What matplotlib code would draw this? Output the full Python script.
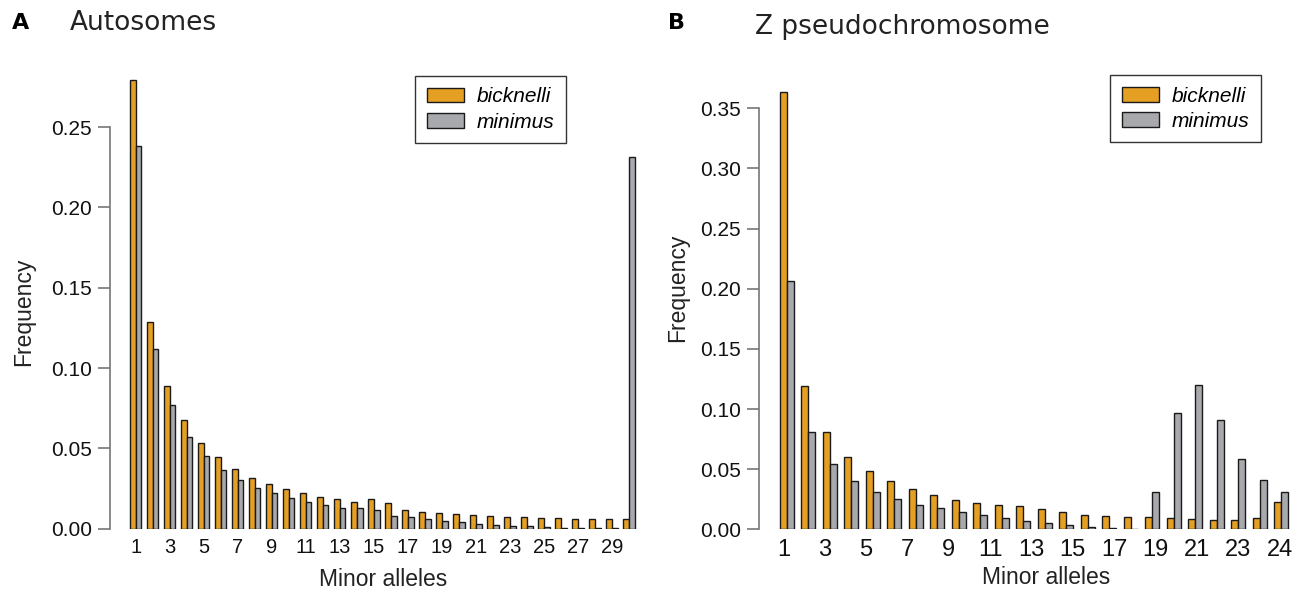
import matplotlib
matplotlib.use('Agg')
import matplotlib.pyplot as plt
import numpy as np

# site frequency spectra
auto_bicknelli = [0.2793, 0.1286, 0.0887, 0.0674, 0.0535, 0.0444, 0.0369, 0.0317, 0.0276, 0.0245,
                  0.0220, 0.0198, 0.0182, 0.0164, 0.0183, 0.0159, 0.0114, 0.0106, 0.0100, 0.0093,
                  0.0083, 0.0079, 0.0075, 0.0071, 0.0068, 0.0064, 0.0062, 0.0058, 0.0058, 0.0060]
auto_minimus = [0.2380, 0.1122, 0.0769, 0.0573, 0.0450, 0.0364, 0.0302, 0.0256, 0.0220, 0.0191,
                0.0166, 0.0145, 0.0129, 0.0130, 0.0114, 0.0079, 0.0070, 0.0058, 0.0048, 0.0039,
                0.0031, 0.0025, 0.0019, 0.0015, 0.0010, 0.0006, 0.0004, 0.0002, 0.0002, 0.2312]
z_bicknelli = [0.3634, 0.1194, 0.0812, 0.0604, 0.0481, 0.0399, 0.0333, 0.0283, 0.0244, 0.0216,
               0.0200, 0.0193, 0.0169, 0.0141, 0.0122, 0.0111, 0.0105, 0.0100, 0.0091, 0.0083,
               0.0078, 0.0080, 0.0091, 0.0227]
z_minimus = [0.2062, 0.0812, 0.0542, 0.0403, 0.0313, 0.0249, 0.0202, 0.0175, 0.0147, 0.0119,
             0.0091, 0.0067, 0.0050, 0.0036, 0.0022, 0.0014, 0.0006, 0.0313, 0.0965, 0.1200,
             0.0906, 0.0588, 0.0413, 0.0313]

auto_ticklabels = [str(i) for i in range(1, 30, 2)]
z_ticklabels = [str(i) for i in range(1, 24, 2)] + ['24']
z_tickslots = list(range(1, 24, 2)) + [25]

species = ['bicknelli', 'minimus']
colors = ['#E5A024', '#A8A9AD']

fig = plt.figure(figsize=(13, 5.96), dpi=100)
W, H = 1300., 596.

def fig_axes(left, right, top, bottom):
    return fig.add_axes([left / W, 1 - bottom / H, (right - left) / W, (bottom - top) / H])

def draw_panel(ax, b, m, xlo, xhi, ytop, yticks, xtickpos, xticklabels, xfont):
    x = np.arange(1, len(b) + 1)
    w = 1 / 3.
    ax.bar(x - w / 2, b, w, color=colors[0], edgecolor='#1a1a1a', linewidth=1.0, label=species[0])
    ax.bar(x + w / 2, m, w, color=colors[1], edgecolor='#1a1a1a', linewidth=1.0, label=species[1])
    ax.set_xlim(xlo, xhi)
    ax.set_ylim(0, ytop)
    for s in ['top', 'right', 'bottom']:
        ax.spines[s].set_visible(False)
    ax.spines['left'].set_bounds(yticks[0], yticks[-1])
    ax.spines['left'].set_color('#777777')
    ax.spines['left'].set_linewidth(1.2)
    ax.set_yticks(yticks)
    ax.set_yticklabels(['%.2f' % v for v in yticks], fontsize=15, family='Liberation Sans')
    ax.tick_params(axis='y', length=9, width=1.2, pad=4, labelcolor='#111111', color='#777777')
    ax.set_xticks(xtickpos)
    ax.set_xticklabels(xticklabels, fontsize=xfont, family='Liberation Sans', color='#111111')
    ax.tick_params(axis='x', length=0, pad=7)

def add_legend(ax, anchor):
    leg = ax.legend(loc='upper left', bbox_to_anchor=anchor, borderaxespad=0,
                    prop={'family': 'Liberation Sans', 'style': 'italic', 'size': 15},
                    frameon=True, fancybox=False, edgecolor='black', handlelength=1.8,
                    handleheight=0.7, labelspacing=0.3, borderpad=0.55, handletextpad=0.6)
    leg.get_frame().set_linewidth(1.0)
    return leg

# panel A
ax1 = fig_axes(110, 650, 75, 528.7)
draw_panel(ax1, auto_bicknelli, auto_minimus, 1 - 25.7 / 17.01, 1 + 514.3 / 17.01, 0.2825,
           [0.0, 0.05, 0.10, 0.15, 0.20, 0.25], list(range(1, 30, 2)), auto_ticklabels, 14.5)
add_legend(ax1, (0.565, 0.998))

# panel B; tick labels sit on a slightly narrower grid than the bars, as in the original
ax2 = fig_axes(759.3, 1295, 85, 529.3)
zpos = [0.85 + (s - 1) * 0.9614 for s in z_tickslots]
draw_panel(ax2, z_bicknelli, z_minimus, 1 - 27.4 / 21.5, 1 + 508.3 / 21.5, 0.3694,
           [0.0, 0.05, 0.10, 0.15, 0.20, 0.25, 0.30, 0.35], zpos, z_ticklabels, 17)
add_legend(ax2, (0.655, 1.022))

# titles and axis labels
fig.text(12 / W, 1 - 23 / H, 'A', fontsize=16, fontweight='bold', va='center', ha='left')
fig.text(70 / W, 1 - 23 / H, 'Autosomes', fontsize=19, va='center', ha='left', color='#222222')
fig.text(668 / W, 1 - 23 / H, 'B', fontsize=16, fontweight='bold', va='center', ha='left')
fig.text(755 / W, 1 - 27 / H, 'Z pseudochromosome', fontsize=19, va='center', ha='left', color='#222222')

fig.text(24 / W, 1 - 312 / H, 'Frequency', rotation=90, fontsize=16.5, family='Liberation Sans',
         va='center', ha='center', color='#222222')
fig.text(678 / W, 1 - 288 / H, 'Frequency', rotation=90, fontsize=16.5, family='Liberation Sans',
         va='center', ha='center', color='#222222')
fig.text(383 / W, 1 - 580 / H, 'Minor alleles', fontsize=16.5, family='Liberation Sans',
         va='center', ha='center', color='#222222')
fig.text(1046 / W, 1 - 577 / H, 'Minor alleles', fontsize=16.5, family='Liberation Sans',
         va='center', ha='center', color='#222222')

fig.savefig('out.png', dpi=100)
